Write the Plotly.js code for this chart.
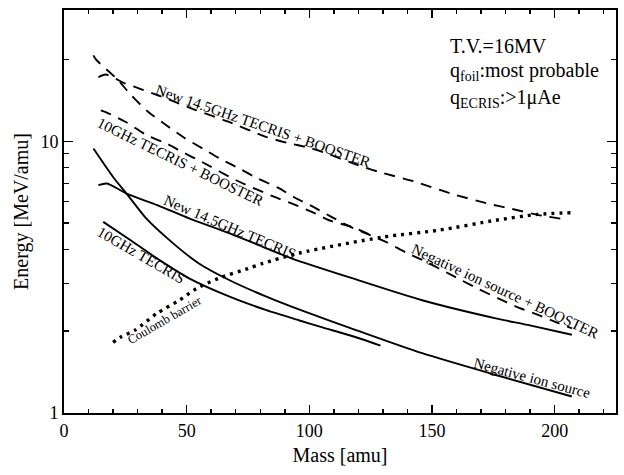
<!DOCTYPE html>
<html><head><meta charset="utf-8">
<script src="https://cdn.plot.ly/plotly-3.0.1.min.js"></script>
<style>html,body{margin:0;padding:0;background:#fff}#chart{width:624px;height:475px}</style>
</head><body><div id="chart"></div>
<script>
// ---- data (mass [amu], energy [MeV/amu]) ----
const new145BoosterMass = [14, 17, 25, 31, 38, 54, 67, 82, 91, 100, 108, 117, 128, 143, 158, 173, 182, 195, 205];
const new145BoosterE    = [17.2, 17.6, 16.3, 15.6, 14.8, 13.0, 11.8, 10.4, 9.87, 9.46, 8.96, 8.34, 7.73, 7.10, 6.41, 5.89, 5.65, 5.32, 5.15];

const ghz10BoosterMass = [15, 17, 25, 34, 42, 48, 56, 70, 85, 93, 101, 108, 117, 125];
const ghz10BoosterE    = [13.0, 12.8, 11.8, 10.5, 9.79, 9.15, 8.41, 7.2, 6.28, 5.89, 5.50, 5.12, 4.85, 4.52];

const negBoosterMass = [12, 13, 22, 27, 34, 42, 49, 57, 64, 72, 79, 87, 94, 102, 109, 116, 123, 131, 140, 148, 154, 162, 169, 177, 184, 193, 201, 207];
const negBoosterE    = [20.7, 20.0, 16.8, 14.9, 12.9, 11.4, 10.3, 9.35, 8.59, 7.89, 7.29, 6.76, 6.21, 5.71, 5.27, 4.88, 4.58, 4.27, 3.87, 3.59, 3.36, 3.08, 2.86, 2.64, 2.47, 2.30, 2.15, 2.05];

const new145Mass = [14, 17.5, 25.5, 38, 51, 67.5, 81, 93, 119, 146, 176, 189, 207];
const new145E    = [6.89, 6.99, 6.42, 5.82, 5.20, 4.58, 4.09, 3.70, 3.10, 2.60, 2.23, 2.11, 1.94];

const negMass = [12, 20, 25.5, 33.5, 44.5, 55, 67.5, 82.5, 96, 119, 146, 176, 207];
const negE    = [9.40, 7.39, 6.42, 5.20, 4.21, 3.55, 3.08, 2.68, 2.40, 2.02, 1.66, 1.38, 1.15];

const ghz10Mass = [16, 27, 38, 51, 67.5, 82.5, 96, 105, 119, 129];
const ghz10E    = [5.05, 4.33, 3.70, 3.13, 2.68, 2.39, 2.19, 2.07, 1.90, 1.77];

const coulombMass = [20, 23, 29, 38, 47, 54, 63, 75, 81, 96, 130, 153, 176, 193, 207];
const coulombE    = [1.82, 1.90, 2.02, 2.33, 2.60, 2.87, 3.13, 3.40, 3.55, 3.88, 4.44, 4.71, 5.12, 5.38, 5.46];

const xTickVals = [0, 50, 100, 150, 200];
const yTickVals = [1, 10];
const yTickText = ['1', '10'];
const yMinorVals = [2, 3, 4, 5, 6, 7, 8, 9, 20];

// ---- layout helpers ----
const W = 624, H = 475, M = {l: 64, r: 8, t: 10, b: 62};
const px = x => (x - M.l) / (W - M.l - M.r);
const py = y => (H - M.b - y) / (H - M.t - M.b);
const FONT = 'Liberation Serif, Times New Roman, serif';

const solid = {color: 'black', width: 1.9, shape: 'spline', smoothing: 0.7};
const dashed = {color: 'black', width: 1.9, dash: '11px,8px', shape: 'spline', smoothing: 0.7};
const dotted = {color: 'black', width: 3.4, dash: '3px,5px', shape: 'spline', smoothing: 0.7};

const traces = [
  {x: new145BoosterMass, y: new145BoosterE, mode: 'lines', line: dashed, name: 'New 14.5GHz TECRIS + BOOSTER'},
  {x: ghz10BoosterMass, y: ghz10BoosterE, mode: 'lines', line: dashed, name: '10GHz TECRIS + BOOSTER'},
  {x: negBoosterMass, y: negBoosterE, mode: 'lines', line: dashed, name: 'Negative ion source + BOOSTER'},
  {x: new145Mass, y: new145E, mode: 'lines', line: solid, name: 'New 14.5GHz TECRIS'},
  {x: negMass, y: negE, mode: 'lines', line: solid, name: 'Negative ion source'},
  {x: ghz10Mass, y: ghz10E, mode: 'lines', line: solid, name: '10GHz TECRIS'},
  {x: coulombMass, y: coulombE, mode: 'lines', line: dotted, name: 'Coulomb barrier'}
];

function label(text, cx, cy, angle, size) {
  return {text: text, xref: 'paper', yref: 'paper', x: px(cx), y: py(cy),
    xanchor: 'center', yanchor: 'middle', showarrow: false, textangle: angle,
    font: {family: FONT, size: size || 15, color: 'black'}};
}
function leftText(text, lx, cy) {
  return {text: text, xref: 'paper', yref: 'paper', x: px(lx), y: py(cy),
    xanchor: 'left', yanchor: 'middle', showarrow: false,
    font: {family: FONT, size: 20, color: 'black'}};
}

const annotations = [
  label('New 14.5GHz TECRIS + BOOSTER', 263, 126, 19),
  label('10GHz TECRIS + BOOSTER', 180.5, 161.7, 26),
  label('New 14.5GHz TECRIS', 229.5, 227, 23),
  label('10GHz TECRIS', 140.8, 255, 30),
  label('Coulomb barrier', 165, 320, -30, 12.5),
  label('Negative ion source + BOOSTER', 504.6, 291.3, 25),
  label('Negative ion source', 532, 378, 15),
  leftText('T.V.=16MV', 448, 46),
  leftText('q<sub>foil</sub>:most probable', 448, 71),
  leftText('q<sub>ECRIS</sub>:>1μAe', 448, 99)
];

const layout = {
  width: W, height: H,
  margin: {l: M.l, r: M.r, t: M.t, b: M.b, pad: 0},
  paper_bgcolor: 'white', plot_bgcolor: 'white',
  showlegend: false,
  font: {family: FONT, color: 'black'},
  xaxis: {
    range: [0, 225], tickvals: xTickVals, ticks: 'inside', ticklen: 8, tickwidth: 1.5, tickcolor: 'black',
    minor: {dtick: 10, tick0: 0, ticks: 'inside', ticklen: 4, tickwidth: 1.5, tickcolor: 'black'},
    showline: true, linewidth: 2, linecolor: 'black', mirror: 'ticks',
    showgrid: false, zeroline: false,
    tickfont: {family: FONT, size: 18, color: 'black'},
    title: {text: 'Mass [amu]', font: {family: FONT, size: 20, color: 'black'}, standoff: 8}
  },
  yaxis: {
    type: 'log', range: [0, 1.483], tickvals: yTickVals, ticktext: yTickText,
    ticks: 'inside', ticklen: 9, tickwidth: 1.5, tickcolor: 'black',
    minor: {tickvals: yMinorVals, ticks: 'inside', ticklen: 5, tickwidth: 1.5, tickcolor: 'black'},
    showline: true, linewidth: 2, linecolor: 'black', mirror: 'ticks',
    showgrid: false, zeroline: false,
    tickfont: {family: FONT, size: 18, color: 'black'},
    title: {text: 'Energy [MeV/amu]', font: {family: FONT, size: 20, color: 'black'}, standoff: 6}
  },
  annotations: annotations
};

Plotly.newPlot('chart', traces, layout, {staticPlot: true, displayModeBar: false});
</script>
</body></html>
